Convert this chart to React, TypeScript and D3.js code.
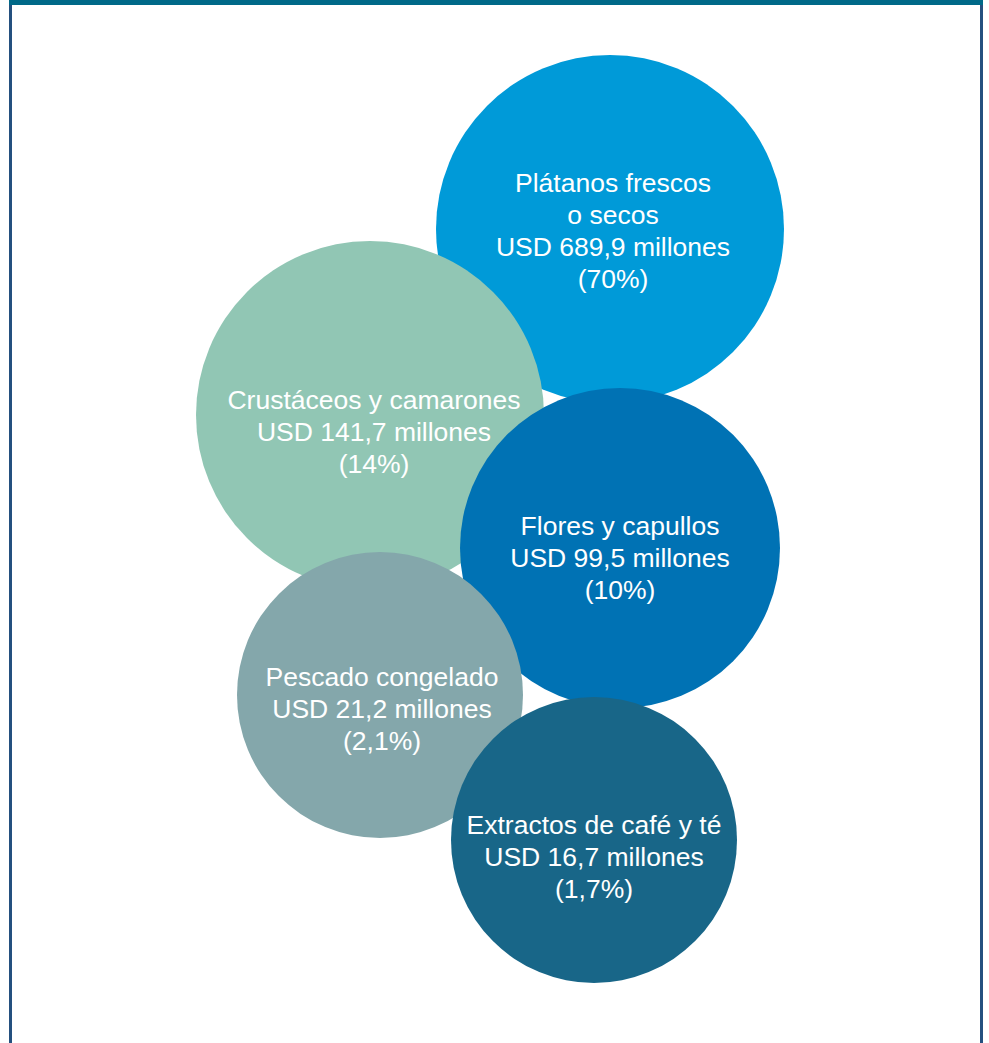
import React from "react";
import * as d3 from "d3";

// chart data
const products = [
  "Plátanos frescos|o secos",
  "Crustáceos y camarones",
  "Flores y capullos",
  "Pescado congelado",
  "Extractos de café y té",
];
const valuesUSD = ["689,9", "141,7", "99,5", "21,2", "16,7"];
const shares = ["70%", "14%", "10%", "2,1%", "1,7%"];

const colors = ["#009ad8", "#91c6b4", "#0072b4", "#84a7ab", "#186688"];

// bubble layout (drawing order = array order)
const layout = [
  { cx: 610, cy: 229, r: 174, dy: 2, tx: 3 },
  { cx: 370, cy: 415, r: 174, dy: 17, tx: 4 },
  { cx: 620, cy: 548, r: 160, dy: 10 },
  { cx: 380, cy: 695, r: 143, dy: 14, tx: 2 },
  { cx: 594, cy: 840, r: 143, dy: 17 },
];

const W = 989;
const H = 1043;
const lineH = 32;

export default function App() {
  const color = d3.scaleOrdinal<string, string>().domain(products).range(colors);

  const bubbles = products.map((p, i) => ({
    name: p,
    lines: [...p.split("|"), `USD ${valuesUSD[i]} millones`, `(${shares[i]})`],
    ...layout[i],
  }));

  return (
    <div style={{ position: "absolute", left: 0, top: 0 }}>
      <svg width={W} height={H} style={{ display: "block" }}>
        <rect x={0} y={0} width={W} height={H} fill="#fff" />
        {/* frame */}
        <rect x={9} y={0} width={3} height={H} fill="#24507f" />
        <rect x={980} y={0} width={3} height={H} fill="#24507f" />
        <rect x={9} y={0} width={974} height={5} fill="#006988" />

        {bubbles.map((b) => (
          <g key={b.name}>
            <circle cx={b.cx} cy={b.cy} r={b.r} fill={color(b.name)} />
            <text
              textAnchor="middle"
              fill="#fff"
              fontFamily="'Liberation Sans', Arial, sans-serif"
              fontSize={26.5}
            >
              {b.lines.map((l, j) => (
                <tspan
                  key={j}
                  x={b.cx + ((b as any).tx || 0)}
                  y={b.cy + b.dy + (j - (b.lines.length - 1) / 2) * lineH + 9}
                >
                  {l}
                </tspan>
              ))}
            </text>
          </g>
        ))}
      </svg>
    </div>
  );
}
